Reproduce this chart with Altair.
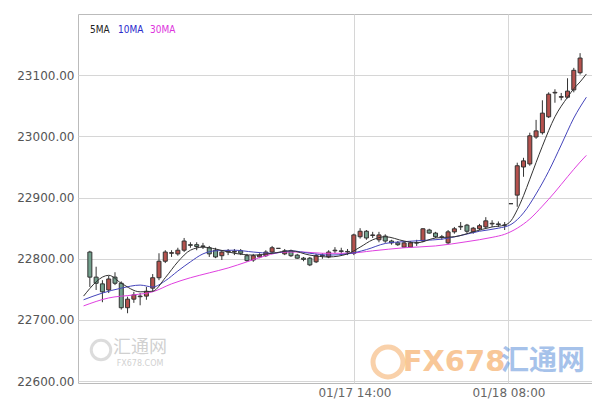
import altair as alt
import pandas as pd

# ---- candle data (index, open, close, high, low) ----
opens = [22811, 22770, 22759, 22749, 22770, 22760, 22720, 22734, 22738, 22739,
         22752, 22769, 22796, 22809, 22808, 22814, 22823, 22823, 22821, 22818,
         22814, 22805, 22811, 22811, 22813, 22805, 22798, 22803, 22805, 22811,
         22817, 22808, 22813, 22806, 22801, 22801, 22795, 22805, 22803, 22813,
         22813, 22812, 22809, 22836, 22845, 22838, 22831, 22837, 22829, 22826,
         22819, 22819, 22826, 22829, 22847, 22842, 22836, 22826, 22844, 22852,
         22855, 22844, 22849, 22852, 22857, 22857, 22855, 22890, 22904, 22950,
         22955, 22999, 23006, 23032, 23071, 23064, 23064, 23076, 23104]
closes = [22770, 22760, 22746, 22767, 22760, 22720, 22734, 22741, 22739, 22747,
          22769, 22796, 22811, 22810, 22814, 22829, 22822, 22820, 22820, 22808,
          22803, 22811, 22813, 22812, 22809, 22797, 22805, 22806, 22811, 22818,
          22817, 22813, 22805, 22801, 22799, 22790, 22805, 22806, 22811, 22814,
          22812, 22811, 22839, 22845, 22834, 22839, 22839, 22829, 22826, 22823,
          22826, 22826, 22826, 22849, 22842, 22836, 22835, 22844, 22849, 22853,
          22845, 22850, 22854, 22862, 22858, 22856, 22855, 22890, 22952, 22960,
          23001, 23009, 23038, 23069, 23072, 23065, 23074, 23108, 23128]
highs = [22813, 22787, 22765, 22772, 22778, 22763, 22738, 22746, 22744, 22754,
         22775, 22809, 22814, 22814, 22818, 22834, 22827, 22827, 22826, 22821,
         22818, 22814, 22816, 22816, 22816, 22808, 22808, 22809, 22814, 22821,
         22817, 22816, 22815, 22808, 22803, 22803, 22808, 22809, 22814, 22819,
         22818, 22816, 22841, 22850, 22847, 22844, 22844, 22840, 22831, 22829,
         22829, 22829, 22831, 22850, 22849, 22844, 22839, 22847, 22852, 22860,
         22857, 22852, 22857, 22868, 22863, 22861, 22860, 22890, 22957, 22965,
         23006, 23027, 23059, 23072, 23077, 23071, 23095, 23112, 23136]
lows = [22754, 22749, 22729, 22744, 22757, 22717, 22711, 22728, 22724, 22733,
        22746, 22765, 22793, 22803, 22805, 22811, 22818, 22814, 22816, 22803,
        22801, 22798, 22806, 22806, 22806, 22795, 22795, 22801, 22803, 22809,
        22817, 22806, 22803, 22800, 22796, 22788, 22793, 22800, 22801, 22809,
        22808, 22806, 22806, 22833, 22831, 22834, 22827, 22826, 22823, 22821,
        22818, 22818, 22821, 22827, 22841, 22834, 22831, 22824, 22841, 22847,
        22842, 22841, 22847, 22850, 22852, 22852, 22847, 22890, 22885, 22934,
        22952, 22996, 23003, 23030, 23055, 23059, 23062, 23072, 23101]

# ---- moving averages (candle index, value) ----
ma5_i = [-1, 3, 5, 8, 10, 12, 14, 16, 18, 20, 23, 26, 29, 32, 35, 38, 41, 43, 45,
         47, 50, 52, 55, 58, 61, 64, 66, 67, 68, 69, 70, 72, 74, 76, 77, 78, 79]
ma5_v = [22739, 22773, 22760, 22746, 22747, 22769, 22795, 22814, 22819, 22816,
         22809, 22806, 22809, 22813, 22806, 22803, 22808, 22819, 22831, 22836,
         22829, 22826, 22834, 22836, 22844, 22852, 22855, 22862, 22880, 22903,
         22930, 22984, 23032, 23064, 23078, 23089, 23102]
ma10_i = [-1, 2, 5, 8, 10, 12, 14, 16, 18, 20, 23, 26, 29, 32, 35, 38, 41, 44, 47,
          50, 53, 56, 59, 62, 65, 67, 69, 71, 73, 75, 77, 79]
ma10_v = [22733, 22744, 22752, 22757, 22754, 22764, 22780, 22795, 22808, 22813,
          22814, 22811, 22809, 22813, 22809, 22806, 22808, 22815, 22825, 22828,
          22830, 22832, 22838, 22845, 22850, 22856, 22875, 22906, 22943, 22986,
          23030, 23064]
ma30_i = [-1, 3, 7, 10, 13, 16, 19, 22, 25, 28, 31, 34, 37, 41, 45, 50, 55, 60,
          64, 66, 68, 70, 72, 74, 76, 78, 79]
ma30_v = [22723, 22736, 22741, 22746, 22759, 22769, 22777, 22785, 22795, 22805,
          22811, 22811, 22809, 22809, 22813, 22818, 22821, 22828, 22835, 22840,
          22850, 22865, 22886, 22909, 22934, 22958, 22969]

y_ticks = [22600, 22700, 22800, 22900, 23000, 23100]
x_tick_pos = [42.1, 66.6]
x_tick_labels = ["01/17 14:00", "01/18 08:00"]
legend_labels = ["5MA", "10MA", "30MA"]
legend_colors = ["#222222", "#2a2acc", "#dd33dd"]
line_colors = ["#333333", "#4444bb", "#e040e0"]

UP, DOWN = "#b5514d", "#72a08d"

candles = pd.DataFrame({
    "i": list(range(len(opens))), "open": opens, "close": closes,
    "high": highs, "low": lows,
})
candles["dir"] = ["up" if c >= o else "down" for o, c in zip(opens, closes)]

xscale = alt.Scale(domain=[-1.09, 79.1], nice=False, zero=False)
yscale = alt.Scale(domain=[22597, 23200], nice=False, zero=False)

expr = "".join(
    f"abs(datum.value - {p}) < 0.5 ? '{l}' : " for p, l in zip(x_tick_pos, x_tick_labels)
) + "''"

xaxis = alt.Axis(values=x_tick_pos, labelExpr=expr, grid=True, gridColor="#d6d6d6",
                 ticks=False, domain=False, labelColor="#666666", labelFont="DejaVu Sans",
                 labelFontSize=12, labelPadding=4, title=None)
yaxis = alt.Axis(values=y_ticks, format=".2f", grid=True, gridColor="#d6d6d6",
                 ticks=False, domain=False, labelColor="#555555", labelFont="DejaVu Sans",
                 labelFontSize=12, labelPadding=4, title=None)

base = alt.Chart(candles)

wicks = base.mark_rule(color="#333333", strokeWidth=1).encode(
    x=alt.X("i:Q", scale=xscale, axis=xaxis),
    y=alt.Y("low:Q", scale=yscale, axis=yaxis),
    y2="high:Q",
)
bodies = base.mark_bar(size=4, stroke="#333333", strokeWidth=1).encode(
    x="i:Q",
    y="open:Q",
    y2="close:Q",
    color=alt.Color("dir:N", scale=alt.Scale(domain=["up", "down"], range=[UP, DOWN]),
                    legend=None),
)

lines = []
for xs, vs, col in [(ma30_i, ma30_v, line_colors[2]), (ma10_i, ma10_v, line_colors[1]),
                    (ma5_i, ma5_v, line_colors[0])]:
    d = pd.DataFrame({"i": xs, "v": vs})
    lines.append(alt.Chart(d).mark_line(color=col, strokeWidth=1, interpolate="monotone",
                                        clip=True).encode(x="i:Q", y="v:Q"))

# legend text
legend_x = [12, 40, 72]
legend_layers = []
for lab, col, lx in zip(legend_labels, legend_colors, legend_x):
    legend_layers.append(
        alt.Chart(pd.DataFrame({"t": [lab]})).mark_text(
            align="left", baseline="middle", fontSize=10, color=col,
            font="DejaVu Sans Condensed, DejaVu Sans"
        ).encode(text="t:N", x=alt.value(lx), y=alt.value(16))
    )

# watermarks
wm = []
wm.append(alt.Chart(pd.DataFrame({"t": ["FX678"]})).mark_text(
    align="center", baseline="middle", fontSize=29, fontWeight="bold", color="#f39a45",
    opacity=0.55, font="DejaVu Sans").encode(text="t:N", x=alt.value(376), y=alt.value(348)))
wm.append(alt.Chart(pd.DataFrame({"t": ["汇通网"]})).mark_text(
    align="center", baseline="middle", fontSize=28, fontWeight="bold", color="#4f86d6",
    opacity=0.5, font="Noto Sans CJK SC").encode(text="t:N", x=alt.value(465), y=alt.value(348)))
wm.append(alt.Chart(pd.DataFrame({"t": ["o"]})).mark_point(
    shape="circle", size=900, filled=False, strokeWidth=5, color="#f39a45", opacity=0.45
).encode(x=alt.value(310), y=alt.value(348)))
wm.append(alt.Chart(pd.DataFrame({"t": ["汇通网"]})).mark_text(
    align="center", baseline="middle", fontSize=18, color="#999999",
    opacity=0.45, font="Noto Sans CJK SC").encode(text="t:N", x=alt.value(62), y=alt.value(334)))
wm.append(alt.Chart(pd.DataFrame({"t": ["FX678.COM"]})).mark_text(
    align="center", baseline="middle", fontSize=8, color="#999999",
    opacity=0.45, font="DejaVu Sans").encode(text="t:N", x=alt.value(62), y=alt.value(350)))
wm.append(alt.Chart(pd.DataFrame({"t": ["o"]})).mark_point(
    shape="circle", size=380, filled=False, strokeWidth=3, color="#aaaaaa", opacity=0.4
).encode(x=alt.value(23), y=alt.value(336)))

chart = alt.layer(wicks, *wm, bodies, *lines, *legend_layers).properties(
    width=514, height=369,
    autosize=alt.AutoSizeParams(type="none"),
    padding={"left": 70, "top": 6, "right": 0, "bottom": 17},
).configure_view(stroke="#bbbbbb", strokeWidth=1)

chart.save("out.html", embed_options={"renderer": "svg", "actions": False})
